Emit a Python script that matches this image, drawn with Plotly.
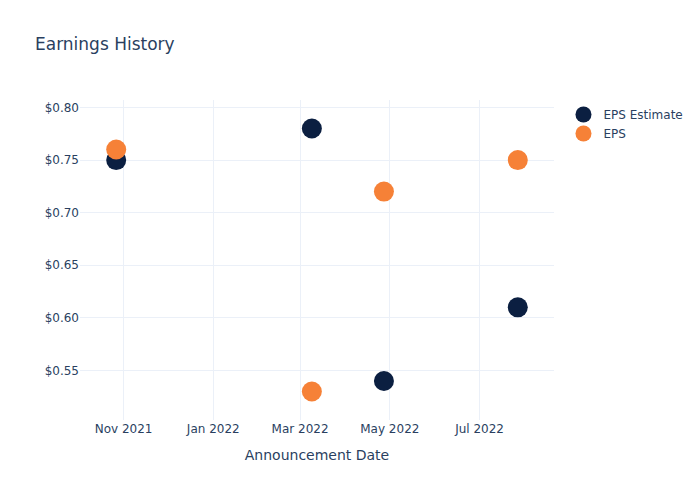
import plotly.graph_objects as go

dates = ["2021-10-27", "2022-03-09", "2022-04-27", "2022-07-27"]
eps_estimate = [0.75, 0.78, 0.54, 0.61]
eps_actual = [0.76, 0.53, 0.72, 0.75]

fig = go.Figure()
fig.add_trace(go.Scatter(x=dates, y=eps_estimate, mode="markers", name="EPS Estimate",
                         marker=dict(color="#0b1f41", size=20)))
fig.add_trace(go.Scatter(x=dates, y=eps_actual, mode="markers", name="EPS",
                         marker=dict(color="#f68137", size=20)))
fig.update_layout(
    template="plotly_white",
    width=700, height=500,
    font=dict(family="DejaVu Sans"),
    title=dict(text="Earnings History"),
    xaxis=dict(title=dict(text="Announcement Date")),
    yaxis=dict(tickprefix="$", tickformat=".2f"),
)
fig.write_html("out.html")
